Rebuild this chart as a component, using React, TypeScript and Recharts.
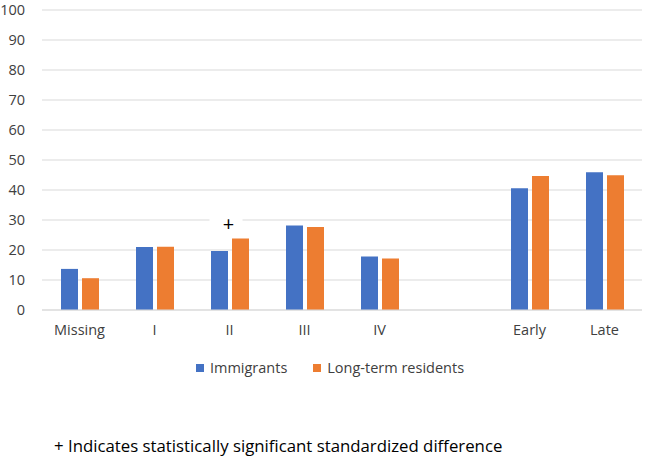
import React from 'react';
import { BarChart, Bar, XAxis, YAxis, CartesianGrid, Legend, ReferenceDot } from 'recharts';

const categories = ['Missing', 'I', 'II', 'III', 'IV', '', 'Early', 'Late'];
const immigrants = [13.7, 21.0, 19.7, 28.2, 17.8, null, 40.6, 45.9];
const longTermResidents = [10.6, 21.1, 23.8, 27.7, 17.2, null, 44.7, 44.9];
const yTicks = [0, 10, 20, 30, 40, 50, 60, 70, 80, 90, 100];

const BLUE = '#4472C4';
const ORANGE = '#ED7D31';
const FONT = '"Open Sans", "Noto Sans", sans-serif';

const data = categories.map((c, i) => ({
  name: c,
  immigrants: immigrants[i],
  residents: longTermResidents[i],
}));

const LegendBox = () => (
  <div style={{ display: 'flex', justifyContent: 'center', fontFamily: FONT, fontSize: 14.5, color: '#404040', paddingLeft: 14 }}>
    <div style={{ display: 'flex', alignItems: 'center', marginRight: 26 }}>
      <span style={{ width: 8, height: 8, background: BLUE, display: 'inline-block', marginRight: 6 }} />
      <span>Immigrants</span>
    </div>
    <div style={{ display: 'flex', alignItems: 'center' }}>
      <span style={{ width: 8, height: 8, background: ORANGE, display: 'inline-block', marginRight: 6 }} />
      <span>Long-term residents</span>
    </div>
  </div>
);

const PlusMark = (props: any) => {
  const { cx, cy } = props;
  return (
    <g>
      <rect x={cx - 20} y={cy - 10} width={33} height={18} fill="#fff" />
      <text x={cx - 1} y={cy} textAnchor="middle" dominantBaseline="central" fontFamily={FONT} fontSize={20} fill="#000">+</text>
    </g>
  );
};

export default function App() {
  return (
    <div style={{ position: 'fixed', top: 0, left: 0, width: 646, height: 471, background: '#fff' }}>
      <BarChart
        width={646}
        height={471}
        data={data}
        margin={{ top: 10, right: 4, left: 0, bottom: 131 }}
        barSize={17}
        barGap={4}
      >
        <CartesianGrid horizontal vertical={false} stroke="#d9d9d9" strokeWidth={1.2} />
        <XAxis
          dataKey="name"
          height={30}
          axisLine={{ stroke: '#d9d9d9', strokeWidth: 1.2 }}
          tickLine={false}
          tickSize={0}
          tickMargin={15}
          interval={0}
          tick={{ fontFamily: FONT, fontSize: 14.5, fill: '#404040' }}
        />
        <YAxis
          width={42}
          domain={[0, 100]}
          ticks={yTicks}
          axisLine={false}
          tickLine={false}
          tickSize={0}
          tickMargin={17}
          tick={{ fontFamily: FONT, fontSize: 14.5, fill: '#404040' }}
        />
        <Legend
          layout="horizontal"
          verticalAlign="middle"
          align="center"
          wrapperStyle={{ top: 358, left: 0, width: 646 }}
          content={() => <LegendBox />}
        />
        <Bar dataKey="immigrants" name="Immigrants" fill={BLUE} isAnimationActive={false} />
        <Bar dataKey="residents" name="Long-term residents" fill={ORANGE} isAnimationActive={false} />
        <ReferenceDot x="II" y={28.7} r={0} shape={PlusMark} ifOverflow="visible" />
      </BarChart>
      <div style={{ position: 'absolute', top: 434, left: 54, fontFamily: FONT, fontSize: 16.8, color: '#000', whiteSpace: 'nowrap' }}>
        + Indicates statistically significant standardized difference
      </div>
    </div>
  );
}
